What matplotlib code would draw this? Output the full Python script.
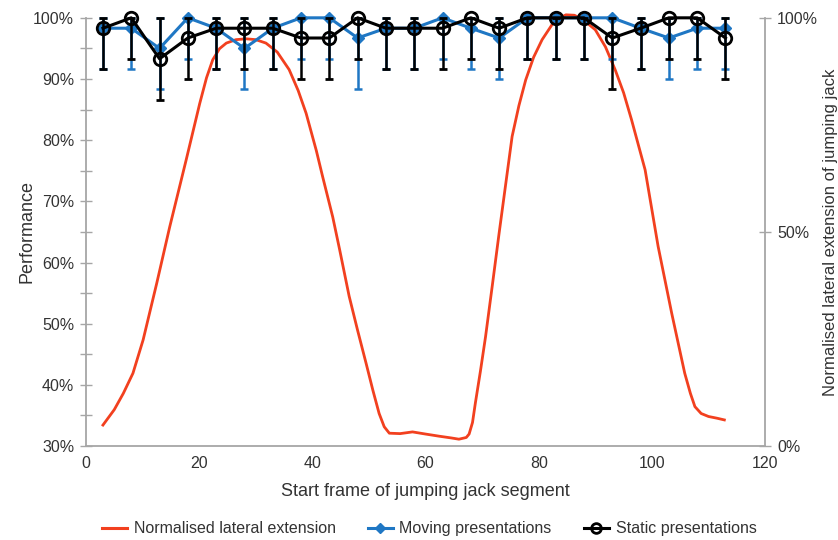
# Importer les bibliothèques
import numpy as np
import matplotlib
matplotlib.use('Agg')
import matplotlib.pyplot as plt
from matplotlib.lines import Line2D
from matplotlib.ticker import MultipleLocator, FuncFormatter

plt.rcParams['font.family'] = ['Liberation Sans', 'DejaVu Sans']

# Données : début des segments
frames = [3, 8, 13, 18, 23, 28, 33, 38, 43, 48, 53, 58,
          63, 68, 73, 78, 83, 88, 93, 98, 103, 108, 113]

# Performance (%) pour les présentations animées
moving = [98.3, 98.3, 95, 100, 98.3, 95, 98.3, 100, 100, 96.7, 98.3, 98.3,
          100, 98.3, 96.7, 100, 100, 100, 100, 98.3, 96.7, 98.3, 98.3]
moving_err = [6.7, 6.7, 6.7, 6.7, 6.7, 6.7, 6.7, 6.7, 6.7, 8.3, 6.7, 6.7,
              6.7, 6.7, 6.7, 6.7, 6.7, 6.7, 6.7, 6.7, 6.7, 6.7, 6.7]

# Performance (%) pour les présentations statiques
static = [98.3, 100, 93.3, 96.7, 98.3, 98.3, 98.3, 96.7, 96.7, 100, 98.3, 98.3,
          98.3, 100, 98.3, 100, 100, 100, 96.7, 98.3, 100, 100, 96.7]
static_err = [6.7, 6.7, 6.7, 6.7, 6.7, 6.7, 6.7, 6.7, 6.7, 6.7, 6.7, 6.7,
              6.7, 6.7, 6.7, 6.7, 6.7, 6.7, 8.3, 6.7, 6.7, 6.7, 6.7]

# Extension latérale normalisée (%), axe de droite
ext_x = [3.0, 5.0, 6.6, 8.3, 10.1, 12.5, 14.8, 17.7, 20.1, 21.3, 22.4, 23.6,
         24.8, 26.5, 28.3, 30.0, 31.8, 33.8, 35.9, 37.5, 38.9, 40.7, 41.8, 43.6,
         44.8, 46.5, 48.0, 49.5, 50.7, 51.8, 52.7, 53.6, 55.5, 57.7, 60.0, 62.4,
         64.5, 65.9, 67.2, 67.7, 68.3, 68.8, 69.7, 70.6, 71.8, 73.0, 74.2, 75.3,
         76.5, 77.7, 79.1, 80.6, 82.3, 83.5, 84.8, 86.3, 87.8, 90.0, 91.8, 93.5,
         95.0, 96.4, 98.8, 101.1, 103.5, 105.8, 106.8, 107.6, 108.7, 110.0, 111.5, 112.8]
ext_y = [4.9, 8.5, 12.3, 17.0, 24.8, 38.0, 51.2, 66.8, 80.0, 86.0, 90.2, 92.8,
         94.1, 94.9, 95.1, 94.9, 94.1, 92.0, 87.9, 83.0, 77.7, 69.0, 63.0, 53.5,
         46.0, 35.0, 27.0, 19.3, 13.0, 7.6, 4.5, 3.0, 2.9, 3.3, 2.8, 2.3,
         1.9, 1.6, 2.0, 2.8, 5.5, 10.0, 17.5, 25.5, 37.5, 49.7, 61.5, 72.3,
         79.5, 85.5, 90.8, 94.9, 98.3, 99.8, 100.7, 100.6, 99.6, 97.2, 93.2, 87.9,
         82.5, 76.2, 64.5, 46.6, 31.0, 17.0, 12.3, 9.2, 7.6, 6.9, 6.5, 6.1]

red = '#f2401f'
blue = '#1f77c4'
grey = '#a6a6a6'
txt = '#333333'

fig = plt.figure(figsize=(8.38, 5.40), dpi=100)
ax = fig.add_axes([0.1026, 0.174, 0.8104, 0.793])
ax2 = ax.twinx()

# Courbe rouge sur l'axe de droite, derrière les performances
ax2.plot(ext_x, ext_y, color=red, linewidth=2.0, clip_on=False)
ax2.set_ylim(0, 100)
ax.set_zorder(ax2.get_zorder() + 1)
ax.patch.set_visible(False)

# Barres d'erreur (bornées à 100 %)
mv = np.array(moving)
st = np.array(static)
mv_up = np.minimum(moving_err, 100 - mv)
st_up = np.minimum(static_err, 100 - st)

ax.errorbar(frames, moving, yerr=[moving_err, mv_up], color=blue, linewidth=2.2,
            marker='D', markersize=6, elinewidth=1.8, capsize=3, capthick=1.8,
            zorder=3, clip_on=False)
ax.errorbar(frames, static, yerr=[static_err, st_up], color='black', linewidth=2.2,
            marker='o', markersize=9, markerfacecolor='none', markeredgewidth=2,
            elinewidth=1.8, capsize=3, capthick=1.8, zorder=4, clip_on=False)

# Axes et graduations
ax.set_xlim(0, 120)
ax.set_ylim(30, 100)
ax.xaxis.set_major_locator(MultipleLocator(20))
ax.yaxis.set_major_locator(MultipleLocator(10))
ax.yaxis.set_minor_locator(MultipleLocator(5))
ax.yaxis.set_major_formatter(FuncFormatter(lambda v, p: '%d%%' % v))
ax2.yaxis.set_major_locator(MultipleLocator(50))
ax2.yaxis.set_major_formatter(FuncFormatter(lambda v, p: '%d%%' % v))

for a in (ax, ax2):
    a.spines['top'].set_visible(False)
    for s in ('left', 'right', 'bottom'):
        a.spines[s].set_color(grey)
        a.spines[s].set_linewidth(1.3)
ax.spines['right'].set_visible(False)
ax2.spines['left'].set_visible(False)
ax2.spines['bottom'].set_visible(False)

ax.tick_params(axis='x', length=0, pad=7, labelsize=11.5, labelcolor=txt)
ax.tick_params(axis='y', which='both', direction='inout', length=9, width=1,
               color=grey, labelsize=11.5, labelcolor=txt, pad=4)
ax2.tick_params(axis='y', direction='inout', length=9, width=1,
                color=grey, labelsize=11.5, labelcolor=txt, pad=4)

ax.set_xlabel('Start frame of jumping jack segment', fontsize=13, color=txt, labelpad=9)
ax.set_ylabel('Performance', fontsize=13, color=txt, labelpad=-2)
ax2.set_ylabel('Normalised lateral extension of jumping jack', fontsize=12,
               color=txt, labelpad=4)

# Légende en bas
handles = [Line2D([], [], color=red, linewidth=2.2),
           Line2D([], [], color=blue, linewidth=2.2, marker='D', markersize=5),
           Line2D([], [], color='black', linewidth=2.2, marker='o', markersize=7,
                  markerfacecolor='none', markeredgewidth=2)]
labels = ['Normalised lateral extension', 'Moving presentations', 'Static presentations']
fig.legend(handles, labels, loc='lower center', ncol=3, frameon=False,
           fontsize=11.5, bbox_to_anchor=(0.512, -0.02), columnspacing=2.0,
           handlelength=1.6, handletextpad=0.4, labelcolor=txt)

fig.savefig('out.png', dpi=100)
